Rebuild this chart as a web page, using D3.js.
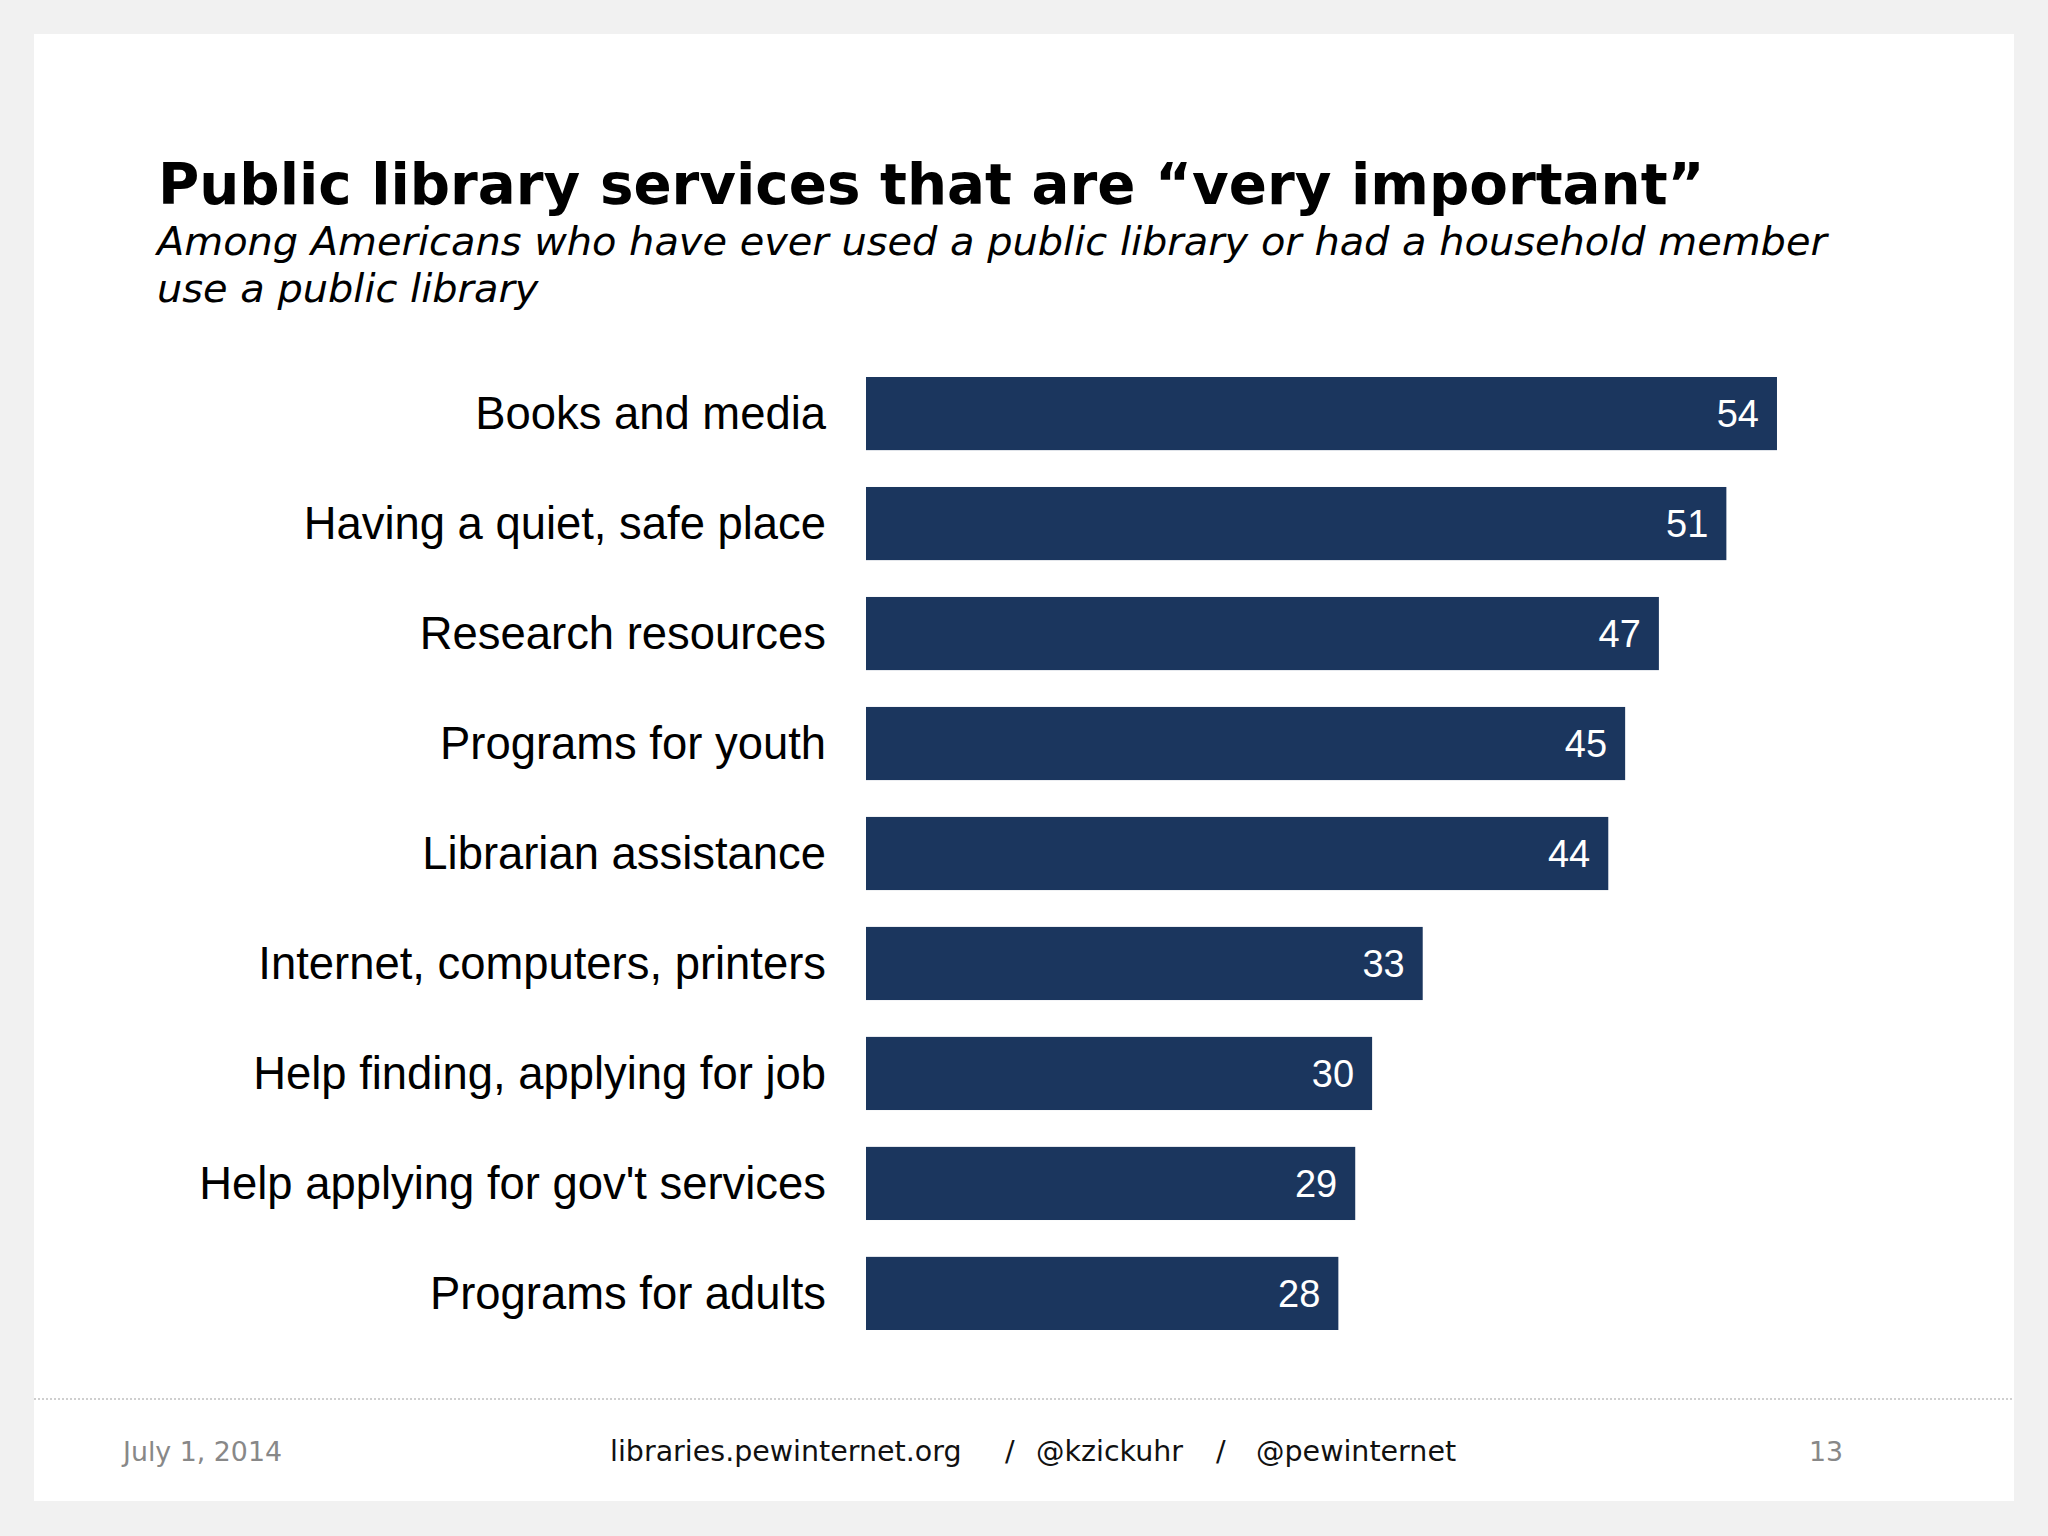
<!DOCTYPE html>
<html>
<head>
<meta charset="utf-8">
<script src="https://cdn.jsdelivr.net/npm/d3@7"></script>
<style>
  html, body { margin: 0; padding: 0; background: #f1f1f1; }
  svg { display: block; }
</style>
</head>
<body>
<svg id="chart" width="2048" height="1536"></svg>
<script>
// values
var categories = [
  "Books and media",
  "Having a quiet, safe place",
  "Research resources",
  "Programs for youth",
  "Librarian assistance",
  "Internet, computers, printers",
  "Help finding, applying for job",
  "Help applying for gov't services",
  "Programs for adults"
];
var values = [54, 51, 47, 45, 44, 33, 30, 29, 28];

var titleText = "Public library services that are \u201cvery important\u201d";
var subtitleLines = [
  "Among Americans who have ever used a public library or had a household member",
  "use a public library"
];
var footerDate = "July 1, 2014";
var footerLinks = ["libraries.pewinternet.org", "/", "@kzickuhr", "/", "@pewinternet"];
var pageNumber = "13";

var svg = d3.select("#chart");
var verdana = "Verdana, 'DejaVu Sans', sans-serif";
var arial = "Arial, 'Liberation Sans', sans-serif";

// white slide card
svg.append("rect")
  .attr("x", 34).attr("y", 34)
  .attr("width", 1980).attr("height", 1467)
  .attr("fill", "#ffffff");

svg.append("text")
  .attr("x", 158).attr("y", 204)
  .attr("font-family", verdana)
  .attr("font-weight", "bold")
  .attr("font-size", 56.3)
  .attr("fill", "#000")
  .text(titleText);

svg.selectAll("text.sub")
  .data(subtitleLines)
  .enter().append("text")
  .attr("class", "sub")
  .attr("x", 157)
  .attr("y", function(d, i){ return 255 + i * 47; })
  .attr("font-family", verdana)
  .attr("font-style", "italic")
  .attr("font-size", 39.9)
  .attr("fill", "#000")
  .text(function(d){ return d; });

var x = d3.scaleLinear().domain([0, 100]).range([866, 866 + 1687]);
var y = d3.scaleBand()
  .domain(categories)
  .range([377, 1330])
  .paddingInner(0.335)
  .paddingOuter(0);

var rows = svg.append("g").selectAll("g")
  .data(categories)
  .enter().append("g");

rows.append("rect")
  .attr("x", x(0))
  .attr("y", function(d){ return y(d); })
  .attr("width", function(d, i){ return x(values[i]) - x(0); })
  .attr("height", y.bandwidth())
  .attr("fill", "#1b365e");

rows.append("text")
  .attr("x", 826)
  .attr("y", function(d){ return y(d) + y.bandwidth() / 2; })
  .attr("dy", "0.35em")
  .attr("text-anchor", "end")
  .attr("font-family", arial)
  .attr("font-size", 45.4)
  .attr("fill", "#000")
  .text(function(d){ return d; });

rows.append("text")
  .attr("x", function(d, i){ return x(values[i]) - 18; })
  .attr("y", function(d){ return y(d) + y.bandwidth() / 2; })
  .attr("dy", "0.36em")
  .attr("text-anchor", "end")
  .attr("font-family", arial)
  .attr("font-size", 38)
  .attr("fill", "#ffffff")
  .text(function(d, i){ return values[i]; });

// footer
svg.append("line")
  .attr("x1", 34).attr("x2", 2014)
  .attr("y1", 1399).attr("y2", 1399)
  .attr("stroke", "#cfcfcf")
  .attr("stroke-width", 2)
  .attr("stroke-dasharray", "2,2");

svg.append("text")
  .attr("x", 123).attr("y", 1461)
  .attr("font-family", verdana)
  .attr("font-size", 26.8)
  .attr("fill", "#888")
  .text(footerDate);

var linkX = [610, 1005, 1036, 1216, 1256];
svg.selectAll("text.link")
  .data(footerLinks)
  .enter().append("text")
  .attr("class", "link")
  .attr("x", function(d, i){ return linkX[i]; })
  .attr("y", 1461)
  .attr("font-family", verdana)
  .attr("font-size", 28.5)
  .attr("fill", "#111")
  .text(function(d){ return d; });

svg.append("text")
  .attr("x", 1843).attr("y", 1461)
  .attr("text-anchor", "end")
  .attr("font-family", verdana)
  .attr("font-size", 26.8)
  .attr("fill", "#888")
  .text(pageNumber);
</script>
</body>
</html>
